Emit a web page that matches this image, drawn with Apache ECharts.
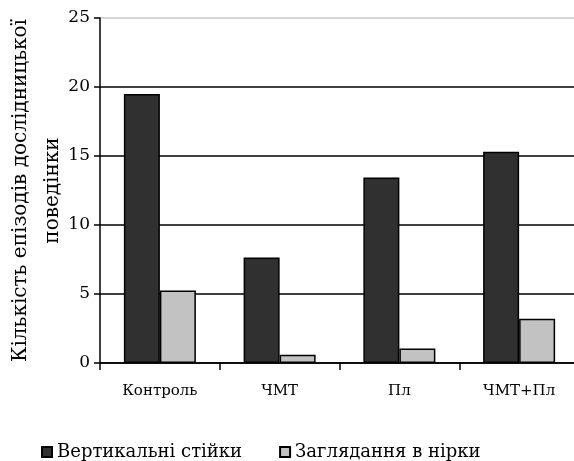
<!DOCTYPE html>
<html>
<head>
<meta charset="utf-8">
<script src="https://cdn.jsdelivr.net/npm/echarts@6/dist/echarts.min.js"></script>
<style>
    html, body { margin: 0; padding: 0; background: #fff; }
    #chart { width: 574px; height: 461px; }
</style>
</head>
<body>
<div id="chart"></div>
<script>
// data
const groups = ['Контроль', 'ЧМТ', 'Пл', 'ЧМТ+Пл'];
const seriesNames = ['Вертикальні стійки', 'Заглядання в нірки'];
const rearing = [19.5, 7.65, 13.45, 15.3];
const burrows = [5.25, 0.6, 1.05, 3.2];
const yTicks = [0, 5, 10, 15, 20, 25];

const font = 'DejaVu Serif';
const chart = echarts.init(document.getElementById('chart'));

let option = {
    animation: false,
    textStyle: { fontFamily: font, color: '#000' },
    grid: { left: 100, right: -5, top: 18, bottom: 98, containLabel: false, outerBoundsMode: 'none' },
    legend: {
        left: 36,
        top: 438,
        itemWidth: 10,
        itemHeight: 10,
        itemGap: 37,
        icon: 'rect',
        textStyle: { fontFamily: font, fontSize: 18, color: '#000' },
        data: seriesNames
    },
    xAxis: {
        type: 'category',
        data: groups,
        axisLine: { lineStyle: { color: '#000', width: 1.5 } },
        axisTick: { show: true, length: 7, lineStyle: { color: '#000', width: 1.5 } },
        axisLabel: { fontFamily: font, fontSize: 15, color: '#000', margin: 21 }
    },
    yAxis: {
        type: 'value',
        min: yTicks[0],
        max: yTicks[yTicks.length - 1],
        interval: 5,
        name: 'Кількість епізодів дослідницької\nповедінки',
        nameLocation: 'middle',
        nameGap: 31,
        nameMoveOverlap: false,
        nameTextStyle: { fontFamily: font, fontSize: 20, color: '#000', lineHeight: 32 },
        axisLine: { show: true, lineStyle: { color: '#000', width: 1.5 } },
        axisTick: { show: true, length: 6, lineStyle: { color: '#000', width: 1.5 } },
        axisLabel: { fontFamily: font, fontSize: 17, color: '#000', margin: 10 },
        splitLine: {
            show: true,
            lineStyle: { color: ['#000', '#000', '#000', '#000', '#000', '#c8c8c8'], width: 1.5 }
        }
    },
    series: [
        {
            name: seriesNames[0],
            type: 'bar',
            data: rearing,
            barWidth: 36,
            barGap: '0%',
            itemStyle: { color: '#303030', borderColor: '#000', borderWidth: 1.5 }
        },
        {
            name: seriesNames[1],
            type: 'bar',
            data: burrows,
            barWidth: 36,
            barGap: '0%',
            itemStyle: { color: '#c2c2c2', borderColor: '#000', borderWidth: 1.5 }
        }
    ]
};
chart.setOption(option);
</script>
</body>
</html>
